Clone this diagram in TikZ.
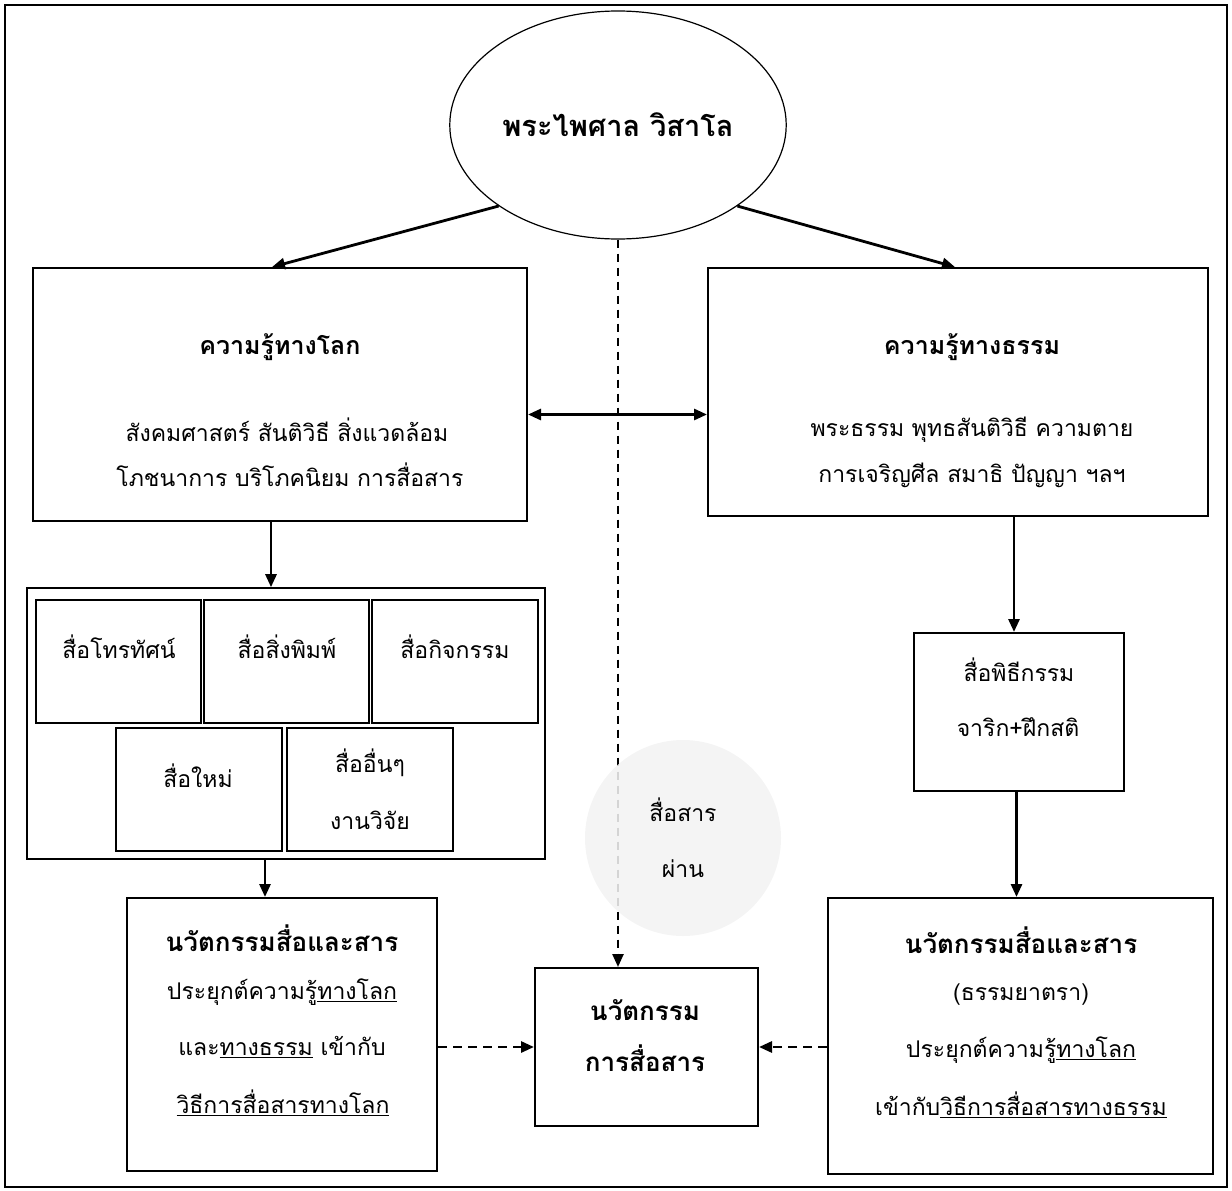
\documentclass[tikz,border=0pt]{standalone}
\usepackage{fontspec}
\setmainfont[Script=Thai]{Loma}
\usetikzlibrary{arrows.meta,shapes.geometric,positioning}
\begin{document}
\begin{tikzpicture}[x=1pt, y=-1pt, >={Triangle[length=13pt,width=11pt]},
    every node/.style={font=\fontsize{23}{28}\selectfont}]
    \tikzstyle{box} = [rectangle, draw, line width=2pt, inner sep=0pt]
    \tikzstyle{txt} = [align=center, inner sep=0pt]
    \tikzstyle{hd} = [txt, font=\fontsize{26}{31}\selectfont\bfseries]
    \tikzstyle{link} = [->, line width=2.8pt]
    \tikzstyle{dlink} = [link, dash pattern=on 9pt off 6pt]
    \useasboundingbox (0,0) rectangle (1232,1191);
    \draw [line width=2.4pt] (5,5) rectangle (1227,1187);

    % top
    \node [ellipse, draw, line width=1.2pt, minimum width=323pt, minimum height=228pt,
        font=\fontsize{29}{34}\selectfont\bfseries] (ph) at (618,125) {พระไพศาล วิสาโล};

    % worldly knowledge
    \node [box, minimum width=494pt, minimum height=253pt] (lk) at (280,394.5) {};
    \node [hd, font=\fontsize{25}{30}\selectfont\bfseries] (lkt) at (280,347) {ความรู้ทางโลก};
    \node [txt] (lk1) at (287,430) {สังคมศาสตร์ สันติวิธี สิ่งแวดล้อม};
    \node [txt] (lk2) at (290,475) {โภชนาการ บริโภคนิยม การสื่อสาร};

    % dhamma knowledge
    \node [box, minimum width=500pt, minimum height=248pt] (dk) at (958,392) {};
    \node [hd, font=\fontsize{25}{30}\selectfont\bfseries] (dkt) at (972,347) {ความรู้ทางธรรม};
    \node [txt] (dk1) at (972,430) {พระธรรม พุทธสันติวิธี ความตาย};
    \node [txt] (dk2) at (972,475) {การเจริญศีล สมาธิ ปัญญา ฯลฯ};

    % media
    \node [box, line width=1.6pt, minimum width=518pt, minimum height=271pt] (md) at (286,723.5) {};
    \node [box, minimum width=165pt, minimum height=123pt] (m1) at (118.5,661.5) {};
    \node [box, minimum width=165pt, minimum height=123pt] (m2) at (286.5,661.5) {};
    \node [box, minimum width=166pt, minimum height=123pt] (m3) at (455,661.5) {};
    \node [box, minimum width=166pt, minimum height=123pt] (m4) at (199,789.5) {};
    \node [box, minimum width=166pt, minimum height=123pt] (m5) at (370,789.5) {};
    \node [txt] (t1) at (119,647) {สื่อโทรทัศน์};
    \node [txt] (t2) at (287,647) {สื่อสิ่งพิมพ์};
    \node [txt] (t3) at (455,647) {สื่อกิจกรรม};
    \node [txt] (t4) at (198,776) {สื่อใหม่};
    \node [txt] (t5) at (370,763) {สื่ออื่นๆ};
    \node [txt] (t6) at (370,820) {งานวิจัย};

    \node [box, minimum width=210pt, minimum height=158pt] (rb) at (1019,712) {};
    \node [txt] (rb1) at (1019,670) {สื่อพิธีกรรม};
    \node [txt] (rb2) at (1018,727) {จาริก+ฝึกสติ};

    % innovations
    \node [box, minimum width=310pt, minimum height=273pt] (li) at (282,1034.5) {};
    \node [hd] (lit) at (282,938) {นวัตกรรมสื่อและสาร};
    \node [txt] (li1) at (282,992) {ประยุกต์ความรู้\underline{ทางโลก}};
    \node [txt] (li2) at (282,1047) {และ\underline{ทางธรรม} เข้ากับ};
    \node [txt] (li3) at (283,1103) {\underline{วิธีการสื่อสารทางโลก}};

    \node [box, minimum width=223pt, minimum height=158pt] (cb) at (646.5,1047) {};
    \node [hd] (cb1) at (645,1010) {นวัตกรรม};
    \node [hd] (cb2) at (645,1058) {การสื่อสาร};

    \node [box, minimum width=385pt, minimum height=276pt] (ri) at (1020.5,1036) {};
    \node [hd] (rit) at (1021,940) {นวัตกรรมสื่อและสาร};
    \node [txt] (ri1) at (1021,995) {(ธรรมยาตรา)};
    \node [txt] (ri2) at (1021,1050) {ประยุกต์ความรู้\underline{ทางโลก}};
    \node [txt] (ri3) at (1021,1105) {เข้ากับ\underline{วิธีการสื่อสารทางธรรม}};

    % connectors
    \draw [link] (ph.south west) -- ([xshift=-8pt]lk.north);
    \draw [link] (ph.south east) -- ([xshift=-3pt]dk.north);
    \coordinate (lkm) at ([yshift=-20pt]lk.east);
    \draw [link, <->] (lkm) -- (lkm -| dk.west);
    \draw [link] ([xshift=-9pt]lk.south) -- ([xshift=-15pt]md.north);
    \draw [link] ([xshift=-21pt]md.south) -- ([xshift=-17pt]li.north);
    \coordinate (r1) at ([xshift=-5pt]rb.north);
    \draw [link] (r1 |- dk.south) -- (r1);
    \coordinate (r2) at ([xshift=-4pt]ri.north);
    \draw [link] (r2 |- rb.south) -- (r2);
    \draw [dlink, dash pattern=on 8pt off 6pt, line width=2.4pt] (ph.south) -- (ph.south |- cb.north);
    \draw [dlink] (li.east |- cb.west) -- (cb.west);
    \draw [dlink] (ri.west |- cb.east) -- (cb.east);

    % overlay
    \node [circle, minimum size=196pt, fill=gray!10, fill opacity=0.88, text opacity=1,
        align=center, font=\fontsize{23}{56}\selectfont] (sp) at (683,838) {สื่อสาร\\ผ่าน};
\end{tikzpicture}
\end{document}
